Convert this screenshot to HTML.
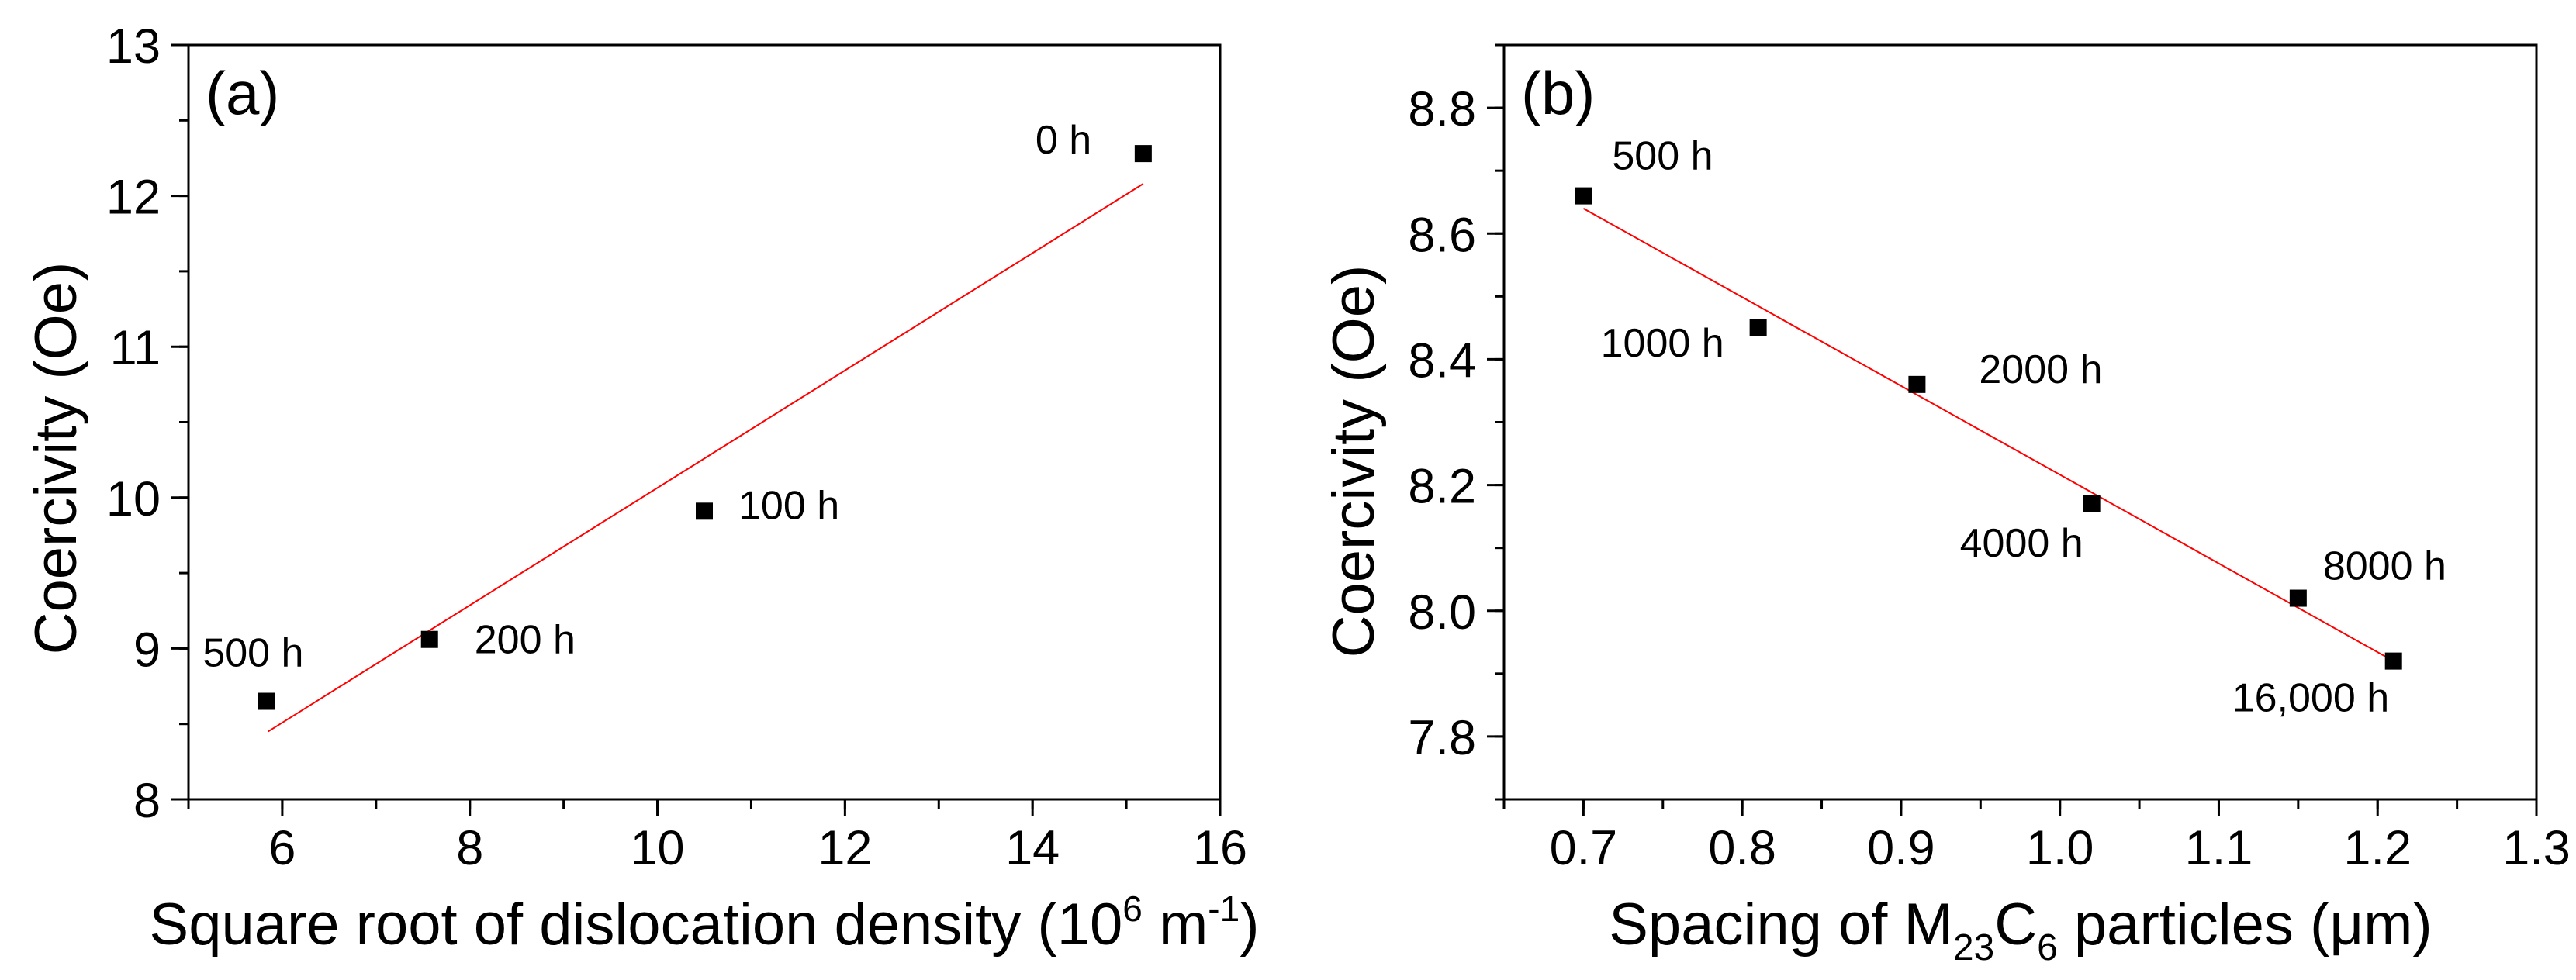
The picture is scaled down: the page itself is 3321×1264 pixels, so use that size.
<!DOCTYPE html>
<html><head><meta charset="utf-8"><style>
html,body{margin:0;padding:0;background:#fff;}
svg{display:block;font-family:"Liberation Sans",Arial,sans-serif;}
</style></head><body>
<svg id="fig" width="3321" height="1264" viewBox="0 0 3321 1264"></svg>
<script>
const aX=[5.83,7.57,10.5,15.18];
const aY=[8.65,9.06,9.91,12.28];
const aLabels=["500 h","200 h","100 h","0 h"];
const aFitX=[5.85,15.18];
const aFitY=[8.45,12.08];
const aXTicks=["6","8","10","12","14","16"];
const aYTicks=["8","9","10","11","12","13"];
const bX=[0.7,0.81,0.91,1.02,1.15,1.21];
const bY=[8.66,8.45,8.36,8.17,8.02,7.92];
const bLabels=["500 h","1000 h","2000 h","4000 h","8000 h","16,000 h"];
const bFitX=[0.7,1.21];
const bFitY=[8.64,7.92];
const bXTicks=["0.7","0.8","0.9","1.0","1.1","1.2","1.3"];
const bYTicks=["7.8","8.0","8.2","8.4","8.6","8.8"];

const NS="http://www.w3.org/2000/svg";
const svg=document.getElementById('fig');
function mk(tag,attrs,parent,text){const e=document.createElementNS(NS,tag);for(const k in attrs)e.setAttribute(k,attrs[k]);if(text!==undefined)e.textContent=text;(parent||svg).appendChild(e);return e;}

function panel(o){
  const g=mk('g',{});
  
  
  const sx=v=>o.L+(v-o.x0)/(o.x1-o.x0)*(o.R-o.L);
  const sy=v=>o.B-(v-o.y0)/(o.y1-o.y0)*(o.B-o.T);
  const fr=mk('rect',{x:o.L,y:o.T,width:o.R-o.L,height:o.B-o.T,fill:'none',stroke:'#000','stroke-width':3},g);
  
  
  const nx=Math.round((o.x1-o.x0)/o.xm);
  for(let i=0;i<=nx;i++){const x=sx(o.x0+i*o.xm);mk('line',{x1:x,x2:x,y1:o.B,y2:o.B+12,stroke:'#000','stroke-width':3},g);}
  const ny=Math.round((o.y1-o.y0)/o.ym);
  for(let i=0;i<=ny;i++){const y=sy(o.y0+i*o.ym);mk('line',{x1:o.L,x2:o.L-12,y1:y,y2:y,stroke:'#000','stroke-width':3},g);}
  o.xt.forEach(t=>{const x=sx(parseFloat(t));
    mk('line',{x1:x,x2:x,y1:o.B,y2:o.B+22,stroke:'#000','stroke-width':3},g);
    const e=mk('text',{x:x,y:1115,'text-anchor':'middle','font-size':63},g,t);
    
    });
  o.yt.forEach(t=>{const y=sy(parseFloat(t));
    mk('line',{x1:o.L,x2:o.L-22,y1:y,y2:y,stroke:'#000','stroke-width':3},g);
    const e=mk('text',{x:o.L-36,y:y+23,'text-anchor':'end','font-size':63},g,t);
    
    });
  const fl=mk('line',{x1:sx(o.fx[0]),y1:sy(o.fy[0]),x2:sx(o.fx[1]),y2:sy(o.fy[1]),stroke:'#f00','stroke-width':2},g);
  
  
  o.xs.forEach((v,i)=>{
    const r=mk('rect',{x:sx(v)-11,y:sy(o.ys[i])-11,width:22,height:22,fill:'#000'},g);
    
    
    const t=mk('text',{x:sx(v)+o.lo[i][0],y:sy(o.ys[i])+o.lo[i][1],'font-size':52},g,o.labels[i]);
    
    
  });
  const pl=mk('text',{x:o.L+22,y:147,'font-size':78},g,o.tag);
  
  
}
panel({name:'panel-a',L:243,R:1573,T:58,B:1031,x0:5,x1:16,y0:8,y1:13,xm:1,ym:0.5,
  xt:aXTicks,yt:aYTicks,xs:aX,ys:aY,labels:aLabels,fx:aFitX,fy:aFitY,tag:'(a)',
  lo:[[-82,-45],[58,18],[44,10],[-139,0]]});
panel({name:'panel-b',L:1939,R:3270,T:58,B:1031,x0:0.65,x1:1.3,y0:7.7,y1:8.9,xm:0.05,ym:0.1,
  xt:bXTicks,yt:bYTicks,xs:bX,ys:bY,labels:bLabels,fx:bFitX,fy:bFitY,tag:'(b)',
  lo:[[37,-34],[-203,37],[80,-2],[-170,68],[32,-24],[-208,65]]});

let t=mk('text',{x:908,y:1218,'text-anchor':'middle','font-size':76},svg,'');


t.innerHTML='Square root of dislocation density (10<tspan dy="-30" font-size="46">6</tspan><tspan dy="30"> m</tspan><tspan dy="-30" font-size="46">-1</tspan><tspan dy="30">)</tspan>';
t=mk('text',{x:2605,y:1218,'text-anchor':'middle','font-size':76},svg,'');


t.innerHTML='Spacing of M<tspan dy="20" font-size="48">23</tspan><tspan dy="-20">C</tspan><tspan dy="20" font-size="48">6</tspan><tspan dy="-20"> particles (μm)</tspan>';
t=mk('text',{x:0,y:0,'text-anchor':'middle','font-size':76,transform:'translate(98,591) rotate(-90)'},svg,'Coercivity (Oe)');


t=mk('text',{x:0,y:0,'text-anchor':'middle','font-size':76,transform:'translate(1771,595) rotate(-90)'},svg,'Coercivity (Oe)');


</script>
</body></html>
